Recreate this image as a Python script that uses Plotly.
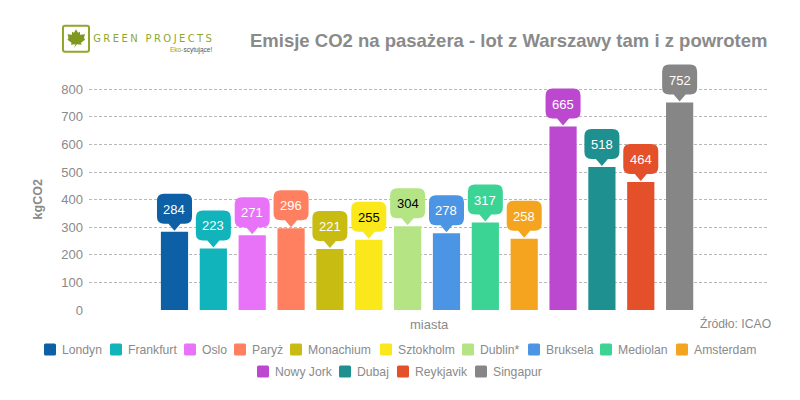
import plotly.graph_objects as go

cities = ["Londyn","Frankfurt","Oslo","Paryż","Monachium","Sztokholm","Dublin*","Bruksela","Mediolan","Amsterdam","Nowy Jork","Dubaj","Reykjavik","Singapur"]
emissions = [284,223,271,296,221,255,304,278,317,258,665,518,464,752]
colors = ["#0D5FA6","#10B4BA","#E873F8","#FF8060","#C8BC12","#FAE81A","#B4E484","#4C94E4","#3CD494","#F4A41E","#BC48D0","#1E9090","#E4502A","#868686"]
label_colors = ["#FFFFFF"]*5 + ["#000000"]*2 + ["#FFFFFF"]*7
y_ticks = [0,100,200,300,400,500,600,700,800]

# legend layout (left edge of each swatch and row centre, in page pixels)
legend_left = [44,110,184,234,290,380,462,528,600,676,257,339,397,475]
legend_row = [349.5]*10 + [371.5]*4

GREY = "#8a8a8a"
FONT = "Liberation Sans"
PLOT_L, PLOT_R, PLOT_T, PLOT_B = 89, 769, 59.2, 310

def px(x): return (x-PLOT_L)/(PLOT_R-PLOT_L)
def py(y): return (PLOT_B-y)/(PLOT_B-PLOT_T)

def callout_path():
    hw, b, t, r, a = 17.5, 8, 38, 7, 6
    return (f"M 0 1 L {-a} {b} L {-hw+r} {b} Q {-hw} {b} {-hw} {b+r} L {-hw} {t-r} Q {-hw} {t} {-hw+r} {t} "
            f"L {hw-r} {t} Q {hw} {t} {hw} {t-r} L {hw} {b+r} Q {hw} {b} {hw-r} {b} L {a} {b} Z")

def round_rect(x0, y0, x1, y1, r):
    return (f"M {px(x0+r)} {py(y0)} L {px(x1-r)} {py(y0)} Q {px(x1)} {py(y0)} {px(x1)} {py(y0+r)} "
            f"L {px(x1)} {py(y1-r)} Q {px(x1)} {py(y1)} {px(x1-r)} {py(y1)} L {px(x0+r)} {py(y1)} "
            f"Q {px(x0)} {py(y1)} {px(x0)} {py(y1-r)} L {px(x0)} {py(y0+r)} Q {px(x0)} {py(y0)} {px(x0+r)} {py(y0)} Z")

fig = go.Figure()
shapes, notes = [], []
for i, (c, v, col, lc) in enumerate(zip(cities, emissions, colors, label_colors)):
    fig.add_trace(go.Bar(x=[i], y=[v], name=c, width=0.7, marker=dict(color=col, line=dict(width=0)), hoverinfo="name+y"))
    shapes.append(dict(type="path", xref="x", yref="y", xsizemode="pixel", ysizemode="pixel",
                       xanchor=i, yanchor=v, path=callout_path(), fillcolor=col, line=dict(width=0), layer="above"))
    notes.append(dict(x=i, y=v, xref="x", yref="y", text=str(v), showarrow=False, yshift=22.5,
                      font=dict(family=FONT, size=13, color=lc)))
    # legend entry
    left, row = legend_left[i], legend_row[i]
    shapes.append(dict(type="path", xref="paper", yref="paper", path=round_rect(left, row-6, left+12, row+6, 1.5),
                       fillcolor=col, line=dict(width=0)))
    notes.append(dict(xref="paper", yref="paper", x=px(left+17), y=py(row), xanchor="left", yanchor="middle", showarrow=False,
                      text=c, font=dict(family=FONT, size=12.2, color=GREY), xshift=-1.5))

# logo
LOGO = "#8FA82A"
shapes.append(dict(type="path", xref="paper", yref="paper", path=round_rect(63, 26, 89, 52, 2),
                   line=dict(color=LOGO, width=2), fillcolor="white"))
leaf = [(76,29.5),(78,33),(80,32),(80,35),(85,34.5),(84,38),(85,40),(81,43),(81.5,45),(77,44.5),(74,48),(75.5,44.5),(71,45),(71.5,43),(67.5,40),(68.5,38),(67.5,34.5),(72,35),(72,32),(74,33)]
shapes.append(dict(type="path", xref="paper", yref="paper",
    path="M " + " L ".join(f"{px(a)} {py(b)}" for a, b in leaf) + " Z", fillcolor="#7F981E", line=dict(width=0)))

notes += [
    dict(xref="paper", yref="paper", x=px(153.5), y=py(39), xanchor="center", yanchor="middle", showarrow=False,
         text="GREEN PROJECTS", font=dict(family="DejaVu Sans", size=10, color=LOGO)),
    dict(xref="paper", yref="paper", x=px(214), y=py(50), xanchor="right", yanchor="middle", showarrow=False,
         text="<span style='color:#8FA82A'>Eko-</span>scytujące!", font=dict(family=FONT, size=6.5, color="#555555")),
    dict(xref="paper", yref="paper", x=px(769), y=py(41), xanchor="right", yanchor="middle", showarrow=False,
         text="<b>Emisje CO2 na pasażera - lot z Warszawy tam i z powrotem</b>", font=dict(family=FONT, size=18.5, color=GREY)),
    dict(xref="paper", yref="paper", x=px(429.5), y=py(324), xanchor="center", yanchor="middle", showarrow=False,
         text="miasta", font=dict(family=FONT, size=13, color=GREY)),
    dict(xref="paper", yref="paper", x=px(772.5), y=py(323), xanchor="right", yanchor="middle", showarrow=False,
         text="Źródło: ICAO", font=dict(family=FONT, size=12.2, color=GREY)),
    dict(xref="paper", yref="paper", x=px(37.5), y=py(200), xanchor="center", yanchor="middle", showarrow=False, textangle=-90,
         text="<b>kgCO2</b>", font=dict(family=FONT, size=12.5, color=GREY)),
]

fig.update_layout(
    width=800, height=400, margin=dict(l=PLOT_L, r=800-PLOT_R, t=PLOT_T, b=400-PLOT_B), autosize=False,
    paper_bgcolor="white", plot_bgcolor="white", barmode="overlay", showlegend=False,
    font=dict(family=FONT, color=GREY),
    xaxis=dict(range=[-2.2, 15.3], showgrid=False, showticklabels=False, ticks="", zeroline=False, showline=False),
    yaxis=dict(range=[0, 910], tickvals=y_ticks, ticks="", showline=False, zeroline=False,
               tickfont=dict(family=FONT, size=13, color=GREY), gridcolor="#b8b8b8", griddash="3px,2px", gridwidth=1, ticklabelstandoff=5),
    shapes=shapes, annotations=notes,
)
post = """document.body.style.margin='0';
function spaceLogo(){document.querySelectorAll('.annotation-text').forEach(function(t){
 if(t.textContent==='GREEN PROJECTS'){t.style.letterSpacing='2.4px';}});}
spaceLogo();"""
fig.write_html("out.html", config=dict(displayModeBar=False), post_script=post)
